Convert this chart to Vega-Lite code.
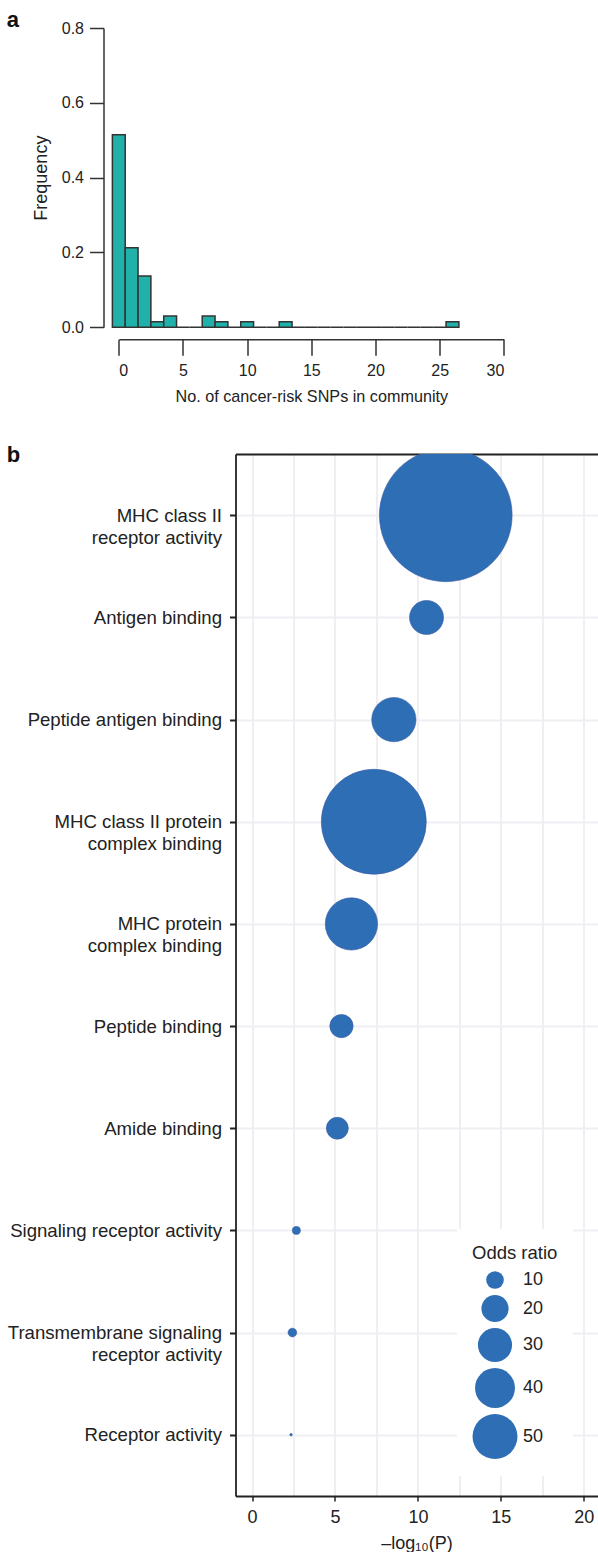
{
  "$schema": "https://vega.github.io/schema/vega-lite/v6.json",
  "padding": {"left": 6.5, "top": 9, "right": 0, "bottom": 0},
  "config": {
    "font": "Liberation Sans",
    "view": {"stroke": null},
    "axis": {"labelColor": "#222", "titleColor": "#222", "titleFontWeight": "normal", "domainColor": "#333", "tickColor": "#333"}
  },
  "concat": [
    {
      "width": 268.3,
      "height": 299.3,
      "title": {"text": "a", "anchor": "start", "frame": "group", "dx": -228.7, "offset": 0, "dy": 29, "baseline": "alphabetic", "fontSize": 22, "fontWeight": "bold", "color": "#111"},
      "data": {"values": [
        {"lo": -0.5, "hi": 0.5, "freq": 0.515},
        {"lo": 0.5, "hi": 1.5, "freq": 0.2125},
        {"lo": 1.5, "hi": 2.5, "freq": 0.137},
        {"lo": 2.5, "hi": 3.5, "freq": 0.015},
        {"lo": 3.5, "hi": 4.5, "freq": 0.030},
        {"lo": 4.5, "hi": 5.5, "freq": 0},
        {"lo": 5.5, "hi": 6.5, "freq": 0},
        {"lo": 6.5, "hi": 7.5, "freq": 0.030},
        {"lo": 7.5, "hi": 8.5, "freq": 0.015},
        {"lo": 8.5, "hi": 9.5, "freq": 0},
        {"lo": 9.5, "hi": 10.5, "freq": 0.015},
        {"lo": 10.5, "hi": 11.5, "freq": 0},
        {"lo": 11.5, "hi": 12.5, "freq": 0},
        {"lo": 12.5, "hi": 13.5, "freq": 0.015},
        {"lo": 13.5, "hi": 14.5, "freq": 0},
        {"lo": 14.5, "hi": 15.5, "freq": 0},
        {"lo": 15.5, "hi": 16.5, "freq": 0},
        {"lo": 16.5, "hi": 17.5, "freq": 0},
        {"lo": 17.5, "hi": 18.5, "freq": 0},
        {"lo": 18.5, "hi": 19.5, "freq": 0},
        {"lo": 19.5, "hi": 20.5, "freq": 0},
        {"lo": 20.5, "hi": 21.5, "freq": 0},
        {"lo": 21.5, "hi": 22.5, "freq": 0},
        {"lo": 22.5, "hi": 23.5, "freq": 0},
        {"lo": 23.5, "hi": 24.5, "freq": 0},
        {"lo": 24.5, "hi": 25.5, "freq": 0},
        {"lo": 25.5, "hi": 26.5, "freq": 0.015}
      ]},
      "mark": {"type": "bar", "fill": "#20b2aa", "stroke": "#333", "strokeWidth": 1.5},
      "encoding": {
        "x": {"field": "lo", "type": "quantitative", "scale": {"domain": [0, 30], "range": [-116.7, 268.3], "nice": false, "zero": false},
          "axis": {"values": [0, 5, 10, 15, 20, 25, 30], "offset": 12, "tickSize": 16, "tickWidth": 1.5, "domainWidth": 1.5, "labelPadding": 7, "labelFontSize": 16, "grid": false,
            "title": "No. of cancer-risk SNPs in community", "titleFontSize": 16.2, "titlePadding": 10}},
        "x2": {"field": "hi"},
        "y": {"field": "freq", "type": "quantitative", "scale": {"domain": [0, 0.8], "nice": false},
          "axis": {"values": [0, 0.2, 0.4, 0.6, 0.8], "format": ".1f", "offset": 132, "tickSize": 14, "tickWidth": 1.5, "domainWidth": 1.5, "labelPadding": 6, "labelFontSize": 16, "grid": false,
            "title": "Frequency", "titleFontSize": 18, "titlePadding": 11}},
        "y2": {"datum": 0}
      }
    },
    {
      "width": 362,
      "height": 1042,
      "title": {"text": "b", "anchor": "start", "frame": "group", "dx": -228.7, "offset": 0, "dy": 29.7, "baseline": "alphabetic", "fontSize": 22, "fontWeight": "bold", "color": "#111"},
      "data": {"values": [
        {"term": "MHC class II\nreceptor activity", "p": 11.68, "or": 415},
        {"term": "Antigen binding", "p": 10.52, "or": 29.8},
        {"term": "Peptide antigen binding", "p": 8.55, "or": 48.6},
        {"term": "MHC class II protein\ncomplex binding", "p": 7.34, "or": 260.8},
        {"term": "MHC protein\ncomplex binding", "p": 5.99, "or": 66.7},
        {"term": "Peptide binding", "p": 5.39, "or": 15.4},
        {"term": "Amide binding", "p": 5.14, "or": 14.0},
        {"term": "Signaling receptor activity", "p": 2.67, "or": 4.2},
        {"term": "Transmembrane signaling\nreceptor activity", "p": 2.43, "or": 4.46},
        {"term": "Receptor activity", "p": 2.35, "or": 2.84}
      ]},
      "resolve": {"axis": {"x": "independent"}},
      "layer": [
        {
          "mark": {"type": "circle", "opacity": 0},
          "encoding": {
            "x": {"field": "p", "type": "quantitative", "scale": {"domain": [-1, 20.83], "nice": false, "zero": false},
              "axis": {"orient": "top", "values": [0, 2.5, 5, 7.5, 10, 12.5, 15, 17.5, 20], "labels": false, "ticks": false, "domain": true, "domainColor": "#222", "domainWidth": 1.8, "grid": true, "gridColor": "#efeff3", "gridWidth": 2, "title": null}}
          }
        },
        {
          "mark": {"type": "circle", "clip": true, "fill": "#2e6eb5", "stroke": "#3b5ba5", "strokeWidth": 0.6, "opacity": 1},
          "encoding": {
            "x": {"field": "p", "type": "quantitative", "scale": {"domain": [-1, 20.83], "nice": false, "zero": false},
              "axis": {"orient": "bottom", "values": [0, 5, 10, 15, 20], "grid": false, "domain": true, "domainColor": "#222", "domainWidth": 1.8, "tickSize": 5, "tickWidth": 1.5, "tickColor": "#222", "labelFontSize": 18, "labelPadding": 7,
                "title": "–log₁₀(P)", "titleFontSize": 18, "titlePadding": 8}},
            "y": {"field": "term", "type": "nominal", "sort": null, "scale": {"type": "point", "padding": 0.6},
              "axis": {"labelExpr": "split(datum.label, '\\n')", "labelFontSize": 18.6, "labelLineHeight": 22, "labelPadding": 8, "labelLimit": 400, "tickSize": 6, "tickWidth": 2, "tickColor": "#222", "domain": true, "domainColor": "#222", "domainWidth": 1.8, "grid": true, "gridColor": "#efeff3", "gridWidth": 2, "title": null}},
            "size": {"field": "or", "type": "quantitative", "scale": {"type": "linear", "domain": [10, 50], "range": [312.2, 2020.6]},
              "legend": {"title": "Odds ratio", "orient": "none", "legendX": 221.5, "legendY": 1201, "values": [10, 20, 30, 40, 50], "fillColor": "white", "padding": 15,
                "titleFontSize": 18.5, "titleFontWeight": "normal", "titleColor": "#222", "titlePadding": 8, "labelFontSize": 18, "labelColor": "#222", "labelOffset": 5, "rowPadding": 3,
                "symbolType": "circle", "symbolFillColor": "#2e6eb5", "symbolStrokeColor": "#3b5ba5", "symbolStrokeWidth": 0.6, "symbolOpacity": 1}}
          }
        }
      ]
    }
  ],
  "columns": 1,
  "align": "none",
  "spacing": 38
}
